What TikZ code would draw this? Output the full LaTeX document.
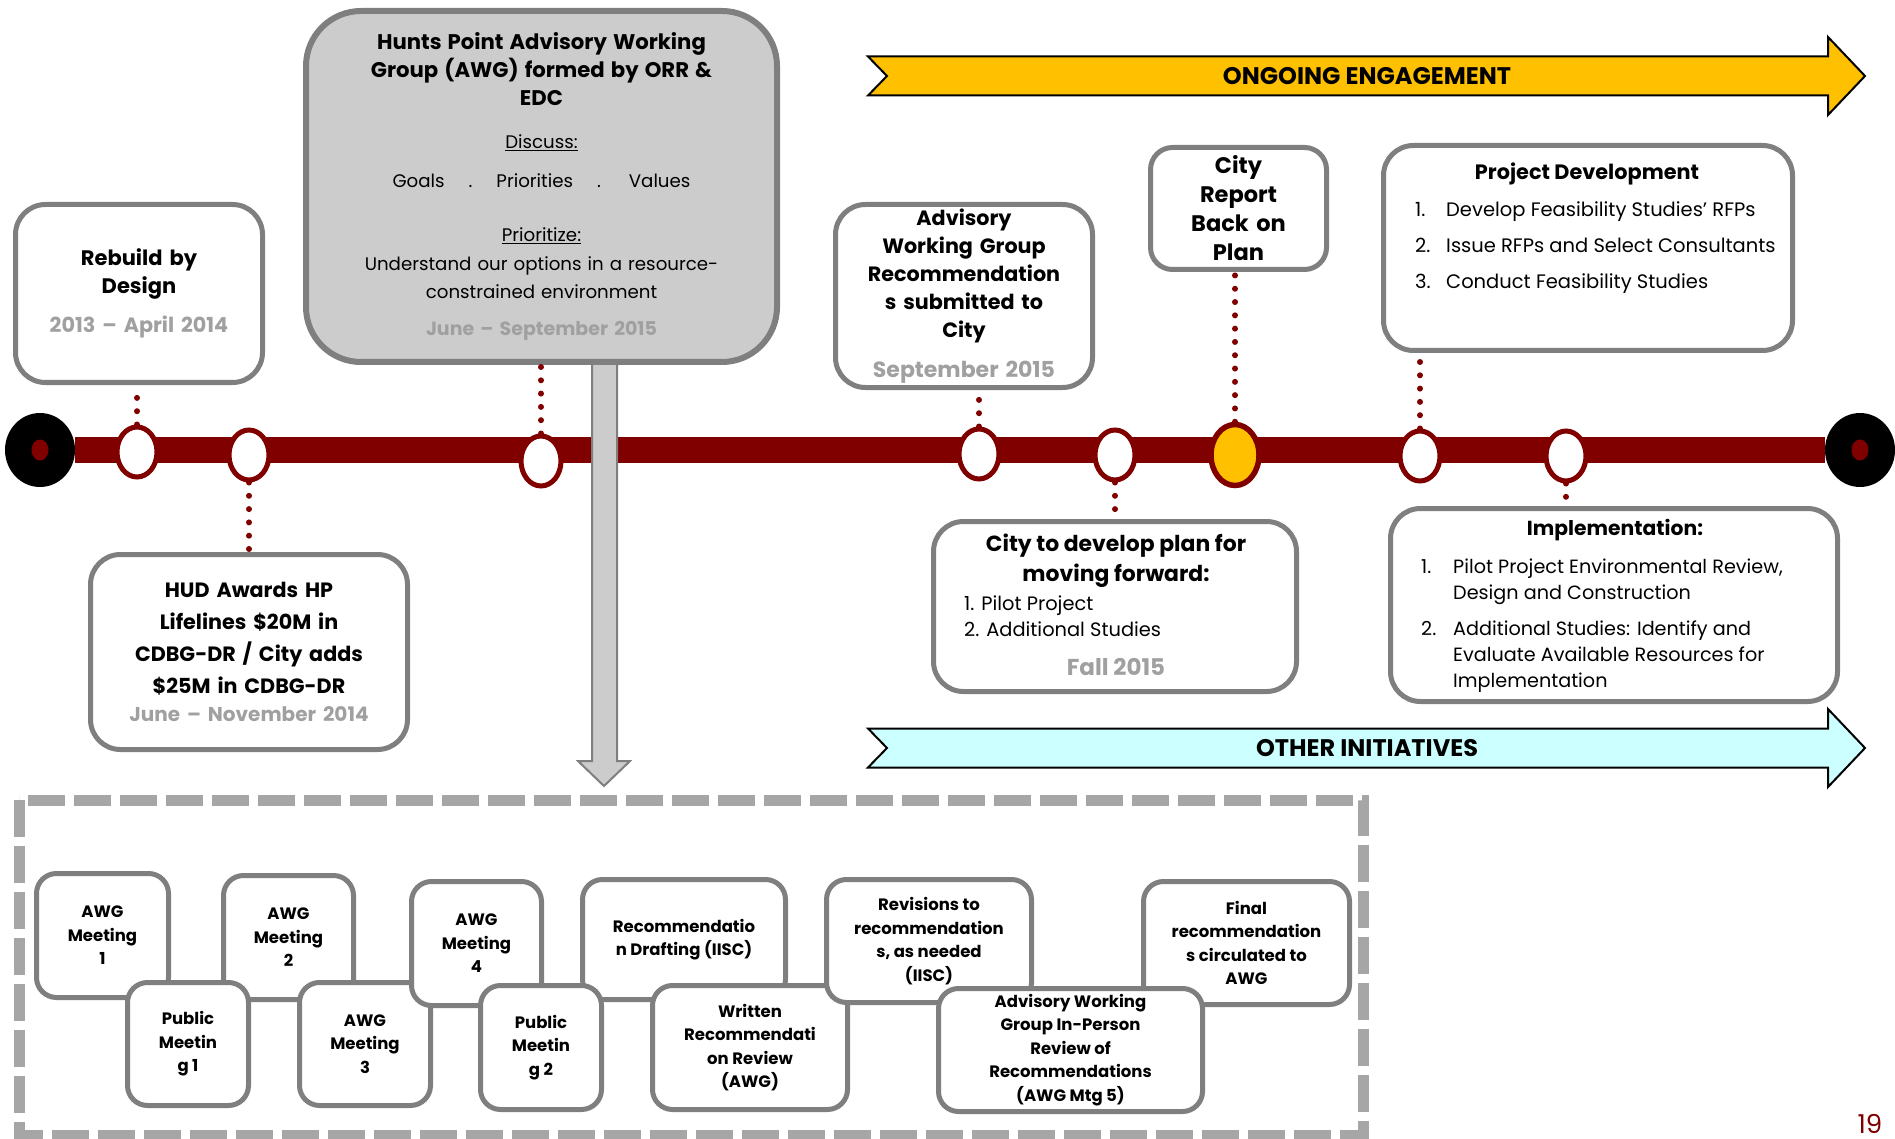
\documentclass[tikz,border=0pt]{standalone}
\usepackage{fontspec}
\setmainfont{Poppins}
\usepackage{xcolor}
\usetikzlibrary{calc}
\usetikzlibrary{math}
\usetikzlibrary{shapes.geometric}

\definecolor{darkred}{RGB}{128,0,0}
\definecolor{boxgray}{RGB}{127,127,127}
\definecolor{awgfill}{RGB}{204,204,204}
\definecolor{datecol}{RGB}{160,160,160}
\definecolor{framegray}{RGB}{166,166,166}
\definecolor{ongoingyellow}{RGB}{255,192,0}
\definecolor{othercyan}{RGB}{204,255,255}

\newcommand{\datetext}[2][19]{{\fontsize{#1}{28}\selectfont\bfseries\color{datecol}#2}}

\begin{document}
\begin{tikzpicture}[x=1pt, y=-1pt,
    box/.style       = {draw=boxgray, fill=white, line width=5pt, rounded corners=30pt,
                        inner sep=0pt, align=center},
    boxtitle/.style  = {font=\fontsize{21}{28}\selectfont\bfseries},
    listtext/.style  = {font=\fontsize{19.3}{26}\selectfont, align=left, inner sep=0pt},
    mtg/.style       = {draw=boxgray, fill=white, line width=5pt, rounded corners=20pt,
                        inner sep=0pt, align=center, font=\fontsize{16.5}{23.5}\selectfont\bfseries},
    milestone/.style = {ellipse, draw=darkred, line width=5pt, fill=white,
                        minimum width=40pt, minimum height=50pt, inner sep=0pt},
    endstop/.style   = {ellipse, fill=black, minimum width=70pt, minimum height=74pt, inner sep=0pt},
    enddot/.style    = {ellipse, fill=darkred, minimum width=17pt, minimum height=21pt, inner sep=0pt},
    dotline/.style   = {draw=darkred, line width=6pt, line cap=round, dash pattern=on 0pt off 13.3pt},
    banner/.style    = {draw=black, line width=2pt, line join=miter},
    bannertext/.style= {font=\fontsize{24}{28}\selectfont\bfseries},
    dashframe/.style = {draw=framegray, line width=11pt, dash pattern=on 37pt off 9pt},
  ]

  \tikzmath{
    \bary = 450; % height of the timeline
    \barw = 26;  % thickness of the timeline
  }

  \useasboundingbox (0,0) rectangle (1895,1139);

  % Timeline with its two end stops
  \node[endstop] (lend) at (40,\bary) {};
  \node[endstop] (rend) at (1860,\bary) {};
  \node[enddot] (lend-dot) at (lend) {};
  \node[enddot] (rend-dot) at (rend) {};
  \draw[darkred, line width=\barw pt] (lend) -- (rend);

  % Arrow down to the AWG process
  \coordinate (tip) at (604,786);
  \draw[fill=awgfill, draw=boxgray, line width=2pt]
    (592,360) -- (592,761) -- (578,761) -- (tip) -- (630,761) -- (617,761) -- (617,360) -- cycle;

  % Boxes above and below the timeline
  \node[box, boxtitle, minimum width=247pt, minimum height=178pt, text width=240pt]
    (rebuild) at (139,293.5) {Rebuild by\\Design\\[11pt]\datetext[20.7]{2013 -- April 2014}};

  \node[box, minimum width=317pt, minimum height=195pt, text width=310pt,
        font=\fontsize{20.7}{32}\selectfont\bfseries]
    (hud) at (249,652) {HUD Awards HP\\Lifelines \$20M in\\CDBG-DR / City adds\\\$25M in CDBG-DR\\[-4pt]%
      \datetext[20]{June -- November 2014}};

  \node[box, fill=awgfill, line width=6pt, rounded corners=55pt, minimum width=471pt,
        minimum height=351pt, text width=465pt, font=\fontsize{18.2}{28}\selectfont]
    (awg) at (541.5,186.5) {%
      {\bfseries\fontsize{21.2}{28}\selectfont Hunts Point Advisory Working\\Group (AWG) formed by ORR \&\\EDC}\\[15pt]
      \underline{Discuss:}\\[11pt]
      Goals\hspace{24pt}.\hspace{24pt}Priorities\hspace{24pt}.\hspace{28pt}Values\\[26pt]
      \underline{Prioritize:}\\[1pt]
      Understand our options in a resource-\\
      constrained environment\\[9pt]
      \datetext{June -- September 2015}};

  \node[box, boxtitle, minimum width=257pt, minimum height=183pt, text width=252pt,
        font=\fontsize{20.7}{28}\selectfont\bfseries]
    (adv) at (964,296) {Advisory\\Working Group\\Recommendation\\s submitted to\\City\\[12pt]%
      \datetext[22]{September 2015}};

  \node[box, rounded corners=22pt, minimum width=176pt, minimum height=122pt,
        text width=172pt, font=\fontsize{22.5}{29}\selectfont\bfseries]
    (report) at (1238.5,208.5) {City\\Report\\Back on\\Plan};

  \node[box, minimum width=409pt, minimum height=205pt] (projdev) at (1588,248) {};
  \node[boxtitle, font=\fontsize{20.8}{28}\selectfont\bfseries] (projdev-title) at (1587,174)
    {Project Development};
  \node[listtext, anchor=west, font=\fontsize{19.5}{36}\selectfont] (projdev-list) at (1415,248)
    {\makebox[31pt][l]{1.}Develop Feasibility Studies' RFPs\\
     \makebox[31pt][l]{2.}Issue RFPs and Select Consultants\\
     \makebox[31pt][l]{3.}Conduct Feasibility Studies};

  \node[box, minimum width=363pt, minimum height=170pt] (plan) at (1115,606.5) {};
  \node[align=center, font=\fontsize{21.9}{30}\selectfont\bfseries] (plan-title) at (1116,561)
    {City to develop plan for\\moving forward:};
  \node[listtext, anchor=west, font=\fontsize{19.4}{26}\selectfont] (plan-list) at (964,616)
    {1. Pilot Project\\2. Additional Studies};
  \node (plan-date) at (1116,667) {\datetext[23]{Fall 2015}};

  \node[box, minimum width=447pt, minimum height=193pt] (impl) at (1614,605) {};
  \node[font=\fontsize{20.3}{28}\selectfont\bfseries] (impl-title) at (1615,530) {Implementation:};
  \node[listtext, anchor=west, font=\fontsize{19.2}{26}\selectfont] (impl-list) at (1421,625.5)
    {\makebox[32pt][l]{1.}Pilot Project Environmental Review,\\
     \hspace*{32pt}Design and Construction\\[10pt]
     \makebox[32pt][l]{2.}Additional Studies: Identify and\\
     \hspace*{32pt}Evaluate Available Resources for\\
     \hspace*{32pt}Implementation};

  % Milestones on the timeline
  \node[milestone] (m1) at (137,452) {};
  \node[milestone] (m2) at (249,455) {};
  \node[milestone] (m3) at (541,461) {};
  \node[milestone] (m4) at (979,454) {};
  \node[milestone] (m5) at (1115,455) {};
  \node[milestone, fill=ongoingyellow, line width=5.5pt, minimum width=48pt, minimum height=61pt]
    (m6) at (1235,455) {};
  \node[milestone] (m7) at (1420,456) {};
  \node[milestone] (m8) at (1566,456) {};

  % Dotted links from milestones to boxes
  \draw[dotline] (m1) -- (m1 |- rebuild.south);
  \draw[dotline] (m2) -- (m2 |- hud.north);
  \draw[dotline] (m3) -- (m3 |- awg.south);
  \draw[dotline] (m4) -- (m4 |- adv.south);
  \draw[dotline] (m5) -- (m5 |- plan.north);
  \draw[dotline] (m6) -- (m6 |- report.south);
  \draw[dotline] (m7) -- (m7 |- projdev.south);
  \draw[dotline] (m8) -- (m8 |- impl.north);

  % Banner arrows
  \foreach \yc/\col/\txt/\nm in {76/ongoingyellow/ONGOING ENGAGEMENT/ongoing,
                                 748/othercyan/OTHER INITIATIVES/other} {
    \draw[banner, fill=\col] (868,\yc-19.5) -- (1828,\yc-19.5) -- (1828,\yc-39) -- (1865,\yc)
      -- (1828,\yc+39) -- (1828,\yc+19.5) -- (868,\yc+19.5) -- (887,\yc) -- cycle;
    \node[bannertext] (\nm) at (1367,\yc) {\txt};
  }

  % AWG process
  \draw[dashframe] (19,800) rectangle (1363,1135);

  \node[mtg, minimum width=132pt, minimum height=124pt] (awg1) at (102.5,935.5) {AWG\\Meeting\\1};
  \node[mtg, minimum width=130pt, minimum height=124pt] (awg2) at (288.5,937.5) {AWG\\Meeting\\2};
  \node[mtg, minimum width=121pt, minimum height=123pt] (pub1) at (188,1044) {Public\\Meetin\\g 1};
  \node[mtg, minimum width=131pt, minimum height=123pt] (awg3) at (365,1044) {AWG\\Meeting\\3};
  \node[mtg, minimum width=130pt, minimum height=124pt] (awg4) at (476.5,943.5) {AWG\\Meeting\\4};
  \node[mtg, minimum width=203pt, minimum height=120pt] (draft) at (684,939.5)
    {Recommendatio\\n Drafting (IISC)};
  \node[mtg, minimum width=121pt, minimum height=124pt] (pub2) at (541,1047.5) {Public\\Meetin\\g 2};
  \node[mtg, minimum width=195pt, minimum height=124pt] (written) at (750,1047.5)
    {Written\\Recommendati\\on Review\\(AWG)};
  \node[mtg, minimum width=205pt, minimum height=123pt] (revise) at (929,941)
    {Revisions to\\recommendation\\s, as needed\\(IISC)};
  \node[mtg, minimum width=206pt, minimum height=123pt] (final) at (1246.5,943)
    {Final\\recommendation\\s circulated to\\AWG};
  \node[mtg, minimum width=264pt, minimum height=123pt] (mtg5) at (1070.5,1050)
    {Advisory Working\\Group In-Person\\Review of\\Recommendations\\(AWG Mtg 5)};

  % Page number
  \node[text=darkred, inner sep=0pt, font=\fontsize{26}{30}\selectfont] (pagenum) at (1870,1124) {19};

\end{tikzpicture}
\end{document}
